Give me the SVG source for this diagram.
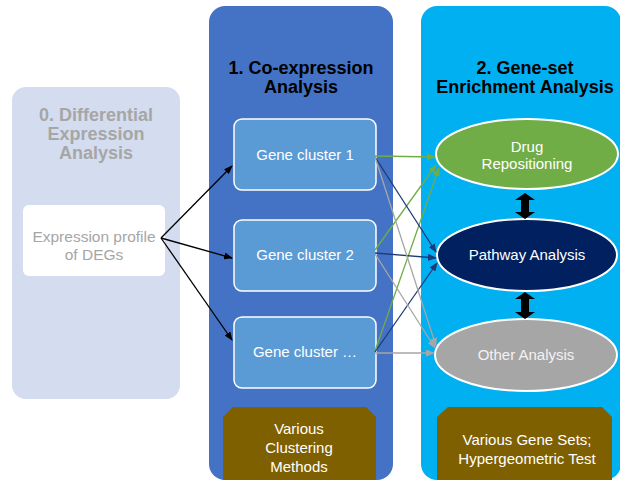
<svg xmlns="http://www.w3.org/2000/svg" width="620" height="482" viewBox="0 0 620 482">
<style>
text{font-family:"Liberation Sans",Arial,sans-serif;text-anchor:middle}
.title{font-weight:bold;font-size:18px;fill:#000}
.t0{font-weight:bold;font-size:18px;fill:#a6a6a6}
.lbl{font-size:15px;fill:#fff}
.gc{fill:#5b9bd5;stroke:#fff;stroke-width:1.5}
.ell{stroke:#fff;stroke-width:2}
.brown{fill:#7f6000}
.k{stroke:#000;stroke-width:1.3;fill:none}
.g{stroke:#70ad47;stroke-width:1.3;fill:none}
.n{stroke:#1f3a78;stroke-width:1.3;fill:none}
.y{stroke:#a6a6a6;stroke-width:1.3;fill:none}
</style>
<defs>
<marker id="mk" markerWidth="9" markerHeight="7" refX="8" refY="3.5" orient="auto" markerUnits="userSpaceOnUse"><path d="M0,0L9,3.5L0,7z" fill="#000"/></marker>
<marker id="mg" markerWidth="9" markerHeight="7" refX="8" refY="3.5" orient="auto" markerUnits="userSpaceOnUse"><path d="M0,0L9,3.5L0,7z" fill="#70ad47"/></marker>
<marker id="mn" markerWidth="9" markerHeight="7" refX="8" refY="3.5" orient="auto" markerUnits="userSpaceOnUse"><path d="M0,0L9,3.5L0,7z" fill="#1f3a78"/></marker>
<marker id="my" markerWidth="9" markerHeight="7" refX="8" refY="3.5" orient="auto" markerUnits="userSpaceOnUse"><path d="M0,0L9,3.5L0,7z" fill="#a6a6a6"/></marker>
</defs>
<rect width="620" height="482" fill="#fff"/>
<g id="panel0">
<rect x="12" y="87" width="168" height="312" rx="14" fill="#d4ddef"/>
<text class="t0" x="96" y="121">0. Differential</text>
<text class="t0" x="96" y="140">Expression</text>
<text class="t0" x="96" y="159">Analysis</text>
</g>
<g id="panel1">
<rect x="209" y="6" width="184" height="474" rx="16" fill="#4472c4"/>
<text class="title" x="301" y="74">1. Co-expression</text>
<text class="title" x="301" y="93">Analysis</text>
</g>
<g id="panel2">
<rect x="421" y="6" width="200" height="474" rx="16" fill="#00b0f0"/>
<text class="title" x="525" y="74">2. Gene-set</text>
<text class="title" x="525" y="93">Enrichment Analysis</text>
</g>
<g id="deg">
<rect x="23" y="205" width="142" height="71" rx="6" fill="#fff"/>
<text x="94" y="242" style="font-size:15.5px;fill:#a6a6a6">Expression profile</text>
<text x="94" y="260" style="font-size:15.5px;fill:#a6a6a6">of DEGs</text>
</g>
<g id="gc1"><rect class="gc" x="234" y="119" width="142" height="71" rx="8"/><text class="lbl" x="305" y="160">Gene cluster 1</text></g>
<g id="gc2"><rect class="gc" x="234" y="220" width="142" height="71" rx="8"/><text class="lbl" x="305" y="260">Gene cluster 2</text></g>
<g id="gc3"><rect class="gc" x="234" y="317" width="142" height="71" rx="8"/><text class="lbl" x="305" y="357">Gene cluster …</text></g>
<g id="clustering"><path class="brown" d="M223,417L233,407L366,407L376,417L376,480L223,480z"/>
<text class="lbl" x="299" y="434">Various</text><text class="lbl" x="299" y="453">Clustering</text><text class="lbl" x="299" y="472">Methods</text></g>
<g id="genesets"><path class="brown" d="M437,417L448,407L602,407L612,417L612,480L437,480z"/>
<text class="lbl" x="527" y="445">Various Gene Sets;</text><text class="lbl" x="527" y="464">Hypergeometric Test</text></g>
<g id="drug"><ellipse class="ell" cx="527" cy="154" rx="91" ry="35" fill="#70ad47"/>
<text class="lbl" x="527" y="152">Drug</text><text class="lbl" x="527" y="169">Repositioning</text></g>
<g id="pathway"><ellipse class="ell" cx="527" cy="255" rx="90" ry="36" fill="#002060"/>
<text class="lbl" x="527" y="260">Pathway Analysis</text></g>
<g id="other"><ellipse class="ell" cx="526" cy="355" rx="91" ry="36" fill="#a6a6a6"/>
<text class="lbl" x="526" y="360" style="fill:#f2f2f2">Other Analysis</text></g>
<g id="connectors">
<line class="k" x1="161" y1="238" x2="232" y2="166" marker-end="url(#mk)"/>
<line class="k" x1="161" y1="238" x2="232" y2="258" marker-end="url(#mk)"/>
<line class="k" x1="161" y1="238" x2="232" y2="340" marker-end="url(#mk)"/>
<line class="g" x1="375" y1="156" x2="435" y2="157" marker-end="url(#mg)"/>
<line class="g" x1="375" y1="250" x2="436" y2="165" marker-end="url(#mg)"/>
<line class="g" x1="375" y1="351" x2="439" y2="168" marker-end="url(#mg)"/>
<line class="n" x1="375" y1="157" x2="436" y2="252" marker-end="url(#mn)"/>
<line class="n" x1="375" y1="253" x2="436" y2="258" marker-end="url(#mn)"/>
<line class="n" x1="375" y1="352" x2="437" y2="263" marker-end="url(#mn)"/>
<line class="y" x1="375" y1="157" x2="436" y2="346" marker-end="url(#my)"/>
<line class="y" x1="375" y1="254" x2="435" y2="348" marker-end="url(#my)"/>
<line class="y" x1="375" y1="353" x2="434" y2="353" marker-end="url(#my)"/>
<path d="M525,193L535,200L529,200L529,212L535,212L525,219L515,212L521,212L521,200L515,200z" fill="#000"/>
<path d="M525,292L535,299L529,299L529,312L535,312L525,319L515,312L521,312L521,299L515,299z" fill="#000"/>
</g>
</svg>
